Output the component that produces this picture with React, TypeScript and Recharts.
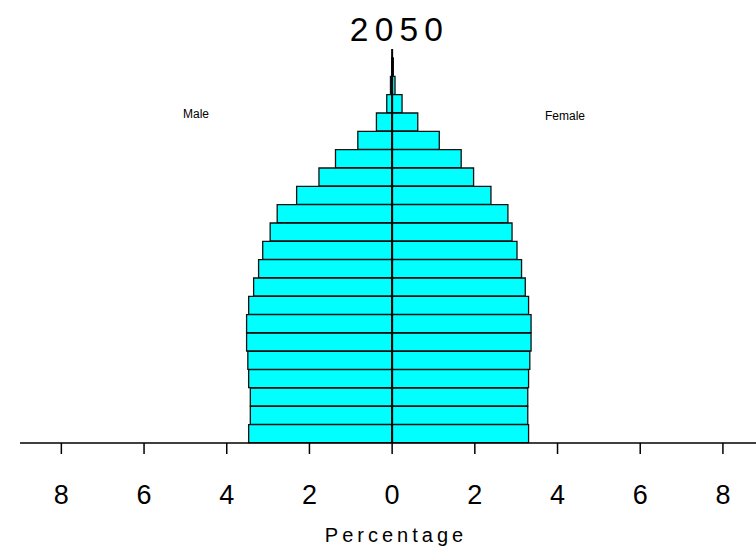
import React from 'react';
import { BarChart, Bar, XAxis, YAxis, ReferenceLine } from 'recharts';

const ageGroups = [
  '0-4', '5-9', '10-14', '15-19', '20-24', '25-29', '30-34', '35-39', '40-44', '45-49',
  '50-54', '55-59', '60-64', '65-69', '70-74', '75-79', '80-84', '85-89', '90-94', '95-99', '100+',
];

const maleShare = [
  3.47, 3.43, 3.43, 3.47, 3.49, 3.52, 3.52, 3.47, 3.35, 3.23,
  3.13, 2.95, 2.78, 2.31, 1.77, 1.37, 0.83, 0.38, 0.13, 0.04, 0.01,
];

const femaleShare = [
  3.3, 3.28, 3.28, 3.3, 3.33, 3.36, 3.36, 3.3, 3.22, 3.13,
  3.02, 2.9, 2.8, 2.39, 1.97, 1.67, 1.14, 0.62, 0.24, 0.07, 0.03,
];

const xTicks = [-8, -6, -4, -2, 0, 2, 4, 6, 8];

const rows = ageGroups.map((age, i) => ({
  age,
  male: -maleShare[i],
  female: femaleShare[i],
}));

const FONT = '"Liberation Sans", Arial, sans-serif';

// center line runs a little above the top bar
const CenterLine = (props: any) => {
  const top = Math.min(props.y1, props.y2);
  const bottom = Math.max(props.y1, props.y2);
  return <line x1={props.x1} x2={props.x2} y1={top - 9} y2={bottom} stroke="#000" strokeWidth={2} />;
};

export default function App() {
  return (
    <div style={{ position: 'absolute', left: 0, top: 0, width: 756, height: 547, background: '#fff' }}>
      <BarChart
        width={756}
        height={547}
        data={rows}
        layout="vertical"
        stackOffset="sign"
        barCategoryGap={0}
        margin={{ top: 58, right: 0, left: 20, bottom: 0 }}
      >
        <XAxis
          type="number"
          domain={[-9, 8.8]}
          ticks={xTicks}
          allowDataOverflow
          height={104}
          tickSize={11}
          tickMargin={31}
          tickFormatter={(v: number) => String(Math.abs(v))}
          axisLine={{ stroke: '#000', strokeWidth: 1.5 }}
          tickLine={{ stroke: '#000', strokeWidth: 1.5 }}
          tick={{ fill: '#000', fontSize: 27, fontFamily: FONT }}
        />
        <YAxis type="category" dataKey="age" reversed hide />
        <Bar dataKey="male" stackId="pop" fill="#00FFFF" stroke="#111" strokeWidth={1.3} isAnimationActive={false} />
        <Bar dataKey="female" stackId="pop" fill="#00FFFF" stroke="#111" strokeWidth={1.3} isAnimationActive={false} />
        <ReferenceLine x={0} shape={CenterLine} ifOverflow="visible" />
      </BarChart>
      <svg
        width={756}
        height={547}
        style={{ position: 'absolute', left: 0, top: 0, pointerEvents: 'none' }}
      >
        <text x={399.5} y={41} textAnchor="middle" fontSize={33.5} letterSpacing={6.2} fontFamily={FONT} fill="#000">
          2050
        </text>
        <text x={183} y={117.5} fontSize={12} fontFamily={FONT} fill="#000">
          Male
        </text>
        <text x={545} y={120} fontSize={12} fontFamily={FONT} fill="#000">
          Female
        </text>
        <text x={396} y={542} textAnchor="middle" fontSize={20} letterSpacing={4} fontFamily={FONT} fill="#000">
          Percentage
        </text>
      </svg>
    </div>
  );
}
